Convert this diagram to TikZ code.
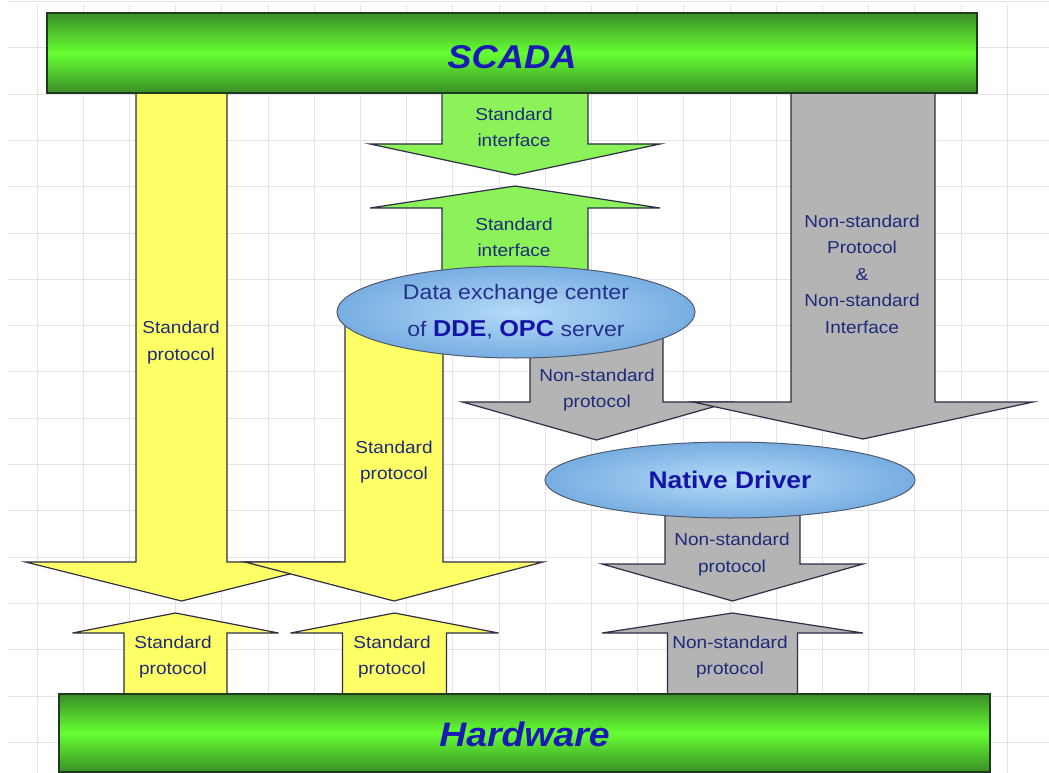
\documentclass[tikz,border=0pt]{standalone}
\usepackage{fontspec}
\setmainfont{Liberation Sans}[FakeStretch=1.1]
\usetikzlibrary{shapes.geometric}

\definecolor{gridgray}{HTML}{E4E4E8}
\definecolor{bardark}{HTML}{3A8E26}
\definecolor{barlight}{HTML}{66FF33}
\definecolor{barline}{HTML}{1F3A1F}
\definecolor{yellowfill}{HTML}{FFFF66}
\definecolor{greenfill}{HTML}{8CF25A}
\definecolor{grayfill}{HTML}{B4B4B4}
\definecolor{edgecol}{HTML}{2E2E48}
\definecolor{ovalin}{HTML}{B4DAF8}
\definecolor{ovalout}{HTML}{78AEE2}
\definecolor{ovalline}{HTML}{4E5A6C}
\definecolor{labelblue}{HTML}{1F2A78}
\definecolor{ovaltext}{HTML}{24308A}
\definecolor{strongblue}{HTML}{1414A8}
\definecolor{titleblue}{HTML}{1A1AB4}

% block arrow: style, centre x, shaft end y, wing y, half shaft, half wing, tip y
\newcommand{\blockarrow}[7]{%
  \draw[#1] ({#2-#5},#3) -- ({#2-#5},#4) -- ({#2-#6},#4) -- (#2,#7)
    -- ({#2+#6},#4) -- ({#2+#5},#4) -- ({#2+#5},#3) -- cycle;}
\newcommand{\strongword}[1]{{\color{strongblue}\fontsize{23}{37}\selectfont\bfseries #1}}

\tikzset{
  gridline/.style={draw=gridgray, line width=0.9pt},
  yellowarrow/.style={fill=yellowfill, draw=edgecol, line width=1.2pt, line join=miter},
  greenarrow/.style={fill=greenfill, draw=edgecol, line width=1.2pt, line join=miter},
  grayarrow/.style={fill=grayfill, draw=edgecol, line width=1.2pt, line join=miter},
  bar/.style={rectangle, draw=barline, line width=1.4pt, top color=bardark,
    bottom color=bardark, middle color=barlight, inner sep=0pt,
    text=titleblue, bfont/.style={}},
  oval/.style={ellipse, draw=ovalline, line width=1pt, shading=radial,
    inner color=ovalin, outer color=ovalout, inner sep=0pt, align=center},
  lbl/.style={align=center, text=labelblue, inner sep=0pt,
    font=\fontsize{17.3}{26.5}\selectfont},
}

\begin{document}
\begin{tikzpicture}[x=1pt, y=-1pt]
\useasboundingbox (0,0) rectangle (1049,773);
\fill[white] (0,0) rectangle (1049,773);

% background grid
\foreach \i in {0,...,21}
  \draw[gridline] ({37+46.2*\i},5) -- ({37+46.2*\i},773);
\foreach \j in {0,...,16}
  \draw[gridline] (8,{1.5+46.3*\j}) -- (1049,{1.5+46.3*\j});

% standard protocol paths
\blockarrow{yellowarrow}{181.5}{93}{562}{45.5}{156}{601}
\blockarrow{yellowarrow}{394}{300}{562}{49}{149}{601}
\blockarrow{yellowarrow}{175.5}{694}{633}{51.5}{103}{613}
\blockarrow{yellowarrow}{394.5}{694}{633}{52}{104}{613}

% standard interface
\blockarrow{greenarrow}{515}{93}{144}{73}{145}{175}
\blockarrow{greenarrow}{515}{300}{208}{73}{145}{186}

% non-standard paths
\blockarrow{grayarrow}{596.5}{330}{402}{66.5}{134}{440}
\blockarrow{grayarrow}{863}{93}{402}{72}{170}{439}
\blockarrow{grayarrow}{732.5}{490}{564}{67.5}{130.5}{601}
\blockarrow{grayarrow}{732.5}{694}{633}{65}{130.5}{613}

% servers
\node[oval, minimum width=358pt, minimum height=92pt, text=ovaltext,
  font=\fontsize{21}{37}\selectfont] (dde) at (516,312)
  {Data exchange center\\of \strongword{DDE}, \strongword{OPC} server};
\node[oval, minimum width=370pt, minimum height=76pt,
  font=\fontsize{24}{28}\selectfont\bfseries, text=strongblue] (native) at (730,480) {Native Driver};

% end systems
\node[bar, minimum width=930pt, minimum height=80pt, text height=31pt,
  font=\fontsize{33}{36}\selectfont\bfseries\itshape] (scada) at (512,53) {SCADA};
\node[bar, minimum width=931pt, minimum height=78pt, text height=28pt,
  font=\fontsize{34}{36}\selectfont\bfseries\itshape] (hw) at (524.5,733) {Hardware};

% arrow labels
\node[lbl] (t1) at (181,342.5) {Standard\\protocol};
\node[lbl] (t2) at (394,462) {Standard\\protocol};
\node[lbl] (t3) at (173,657) {Standard\\protocol};
\node[lbl] (t4) at (392,657) {Standard\\protocol};
\node[lbl] (t5) at (514,127.5) {Standard\\interface};
\node[lbl] (t6) at (514,237.5) {Standard\\interface};
\node[lbl] (t7) at (597,390) {Non-standard\\protocol};
\node[lbl] (t8) at (862,274) {Non-standard\\Protocol\\\&\\Non-standard\\Interface};
\node[lbl] (t9) at (732,554.5) {Non-standard\\protocol};
\node[lbl] (t10) at (730,657) {Non-standard\\protocol};
\end{tikzpicture}
\end{document}
